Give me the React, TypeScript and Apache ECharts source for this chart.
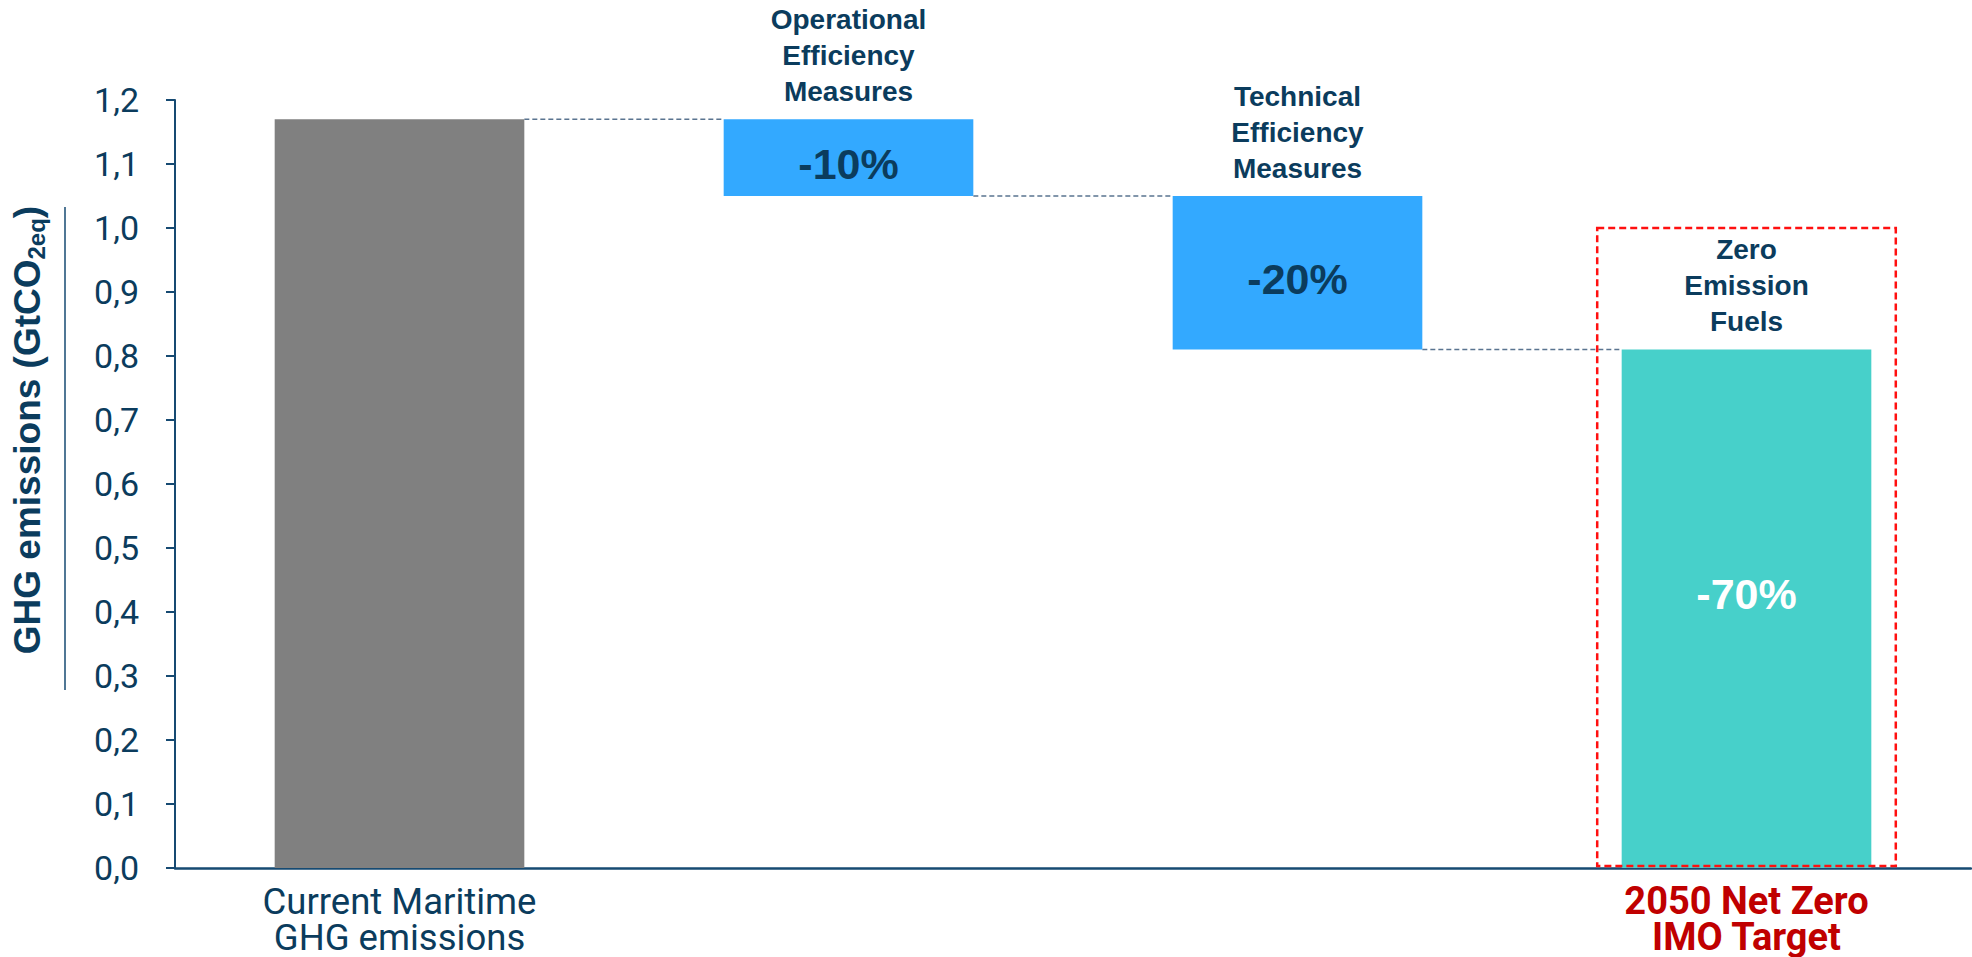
import React, { useEffect, useRef } from "react";
import * as echarts from "echarts";

// ---- Data ----
const categories = [
  "Current Maritime\nGHG emissions",
  "Operational Efficiency Measures",
  "Technical Efficiency Measures",
  "2050 Net Zero\nIMO Target",
];
const axisLabelShown = [true, false, false, true];
const baseValues = [0, 1.05, 0.81, 0];
const barValues = [1.17, 0.12, 0.24, 0.81];
const topLabels = ["", "Operational\nEfficiency\nMeasures", "Technical\nEfficiency\nMeasures", "Zero\nEmission\nFuels"];
const pctLabels = ["", "-10%", "-20%", "-70%"];
const barColors = ["#808080", "#33a9ff", "#33a9ff", "#47d0ca"];
const pctColors = ["#0b3c5d", "#0b3c5d", "#0b3c5d", "#ffffff"];
const pctOffsets = [[0, 0], [0, 6], [0, 6], [0, -15]];
const yTicks = { min: 0, max: 1.2, interval: 0.1 };
const targetBoxTop = 1.0;
const targetIndex = 3;

const NAVY = "#0b3c5d";
const AXIS = "#164a72";
const ARIAL = "Liberation Sans, Arial, sans-serif";

export default function App() {
  const ref = useRef<HTMLDivElement>(null);

  useEffect(() => {
    if (!ref.current) return;
    const chart = echarts.init(ref.current, null, { renderer: "svg" });

    const connectors = barValues.slice(0, -1).map((v, i) => [i, i === 0 ? v : baseValues[i]]);
    const barWidthRatio = 0.556;
    const boxWidthRatio = 0.665;

    chart.setOption({
      animation: false,
      grid: { left: 175, right: 1, top: 100, bottom: 89, containLabel: false },
      xAxis: {
        type: "category",
        data: categories,
        axisTick: { show: false },
        axisLine: { lineStyle: { color: AXIS, width: 2.5 } },
        axisLabel: {
          interval: 0,
          margin: 15,
          color: NAVY,
          fontFamily: "Roboto",
          fontSize: 36.5,
          lineHeight: 36,
          formatter: (v: string, i: number) =>
            !axisLabelShown[i] ? "" : i === targetIndex ? `{red|${v}}` : v,
          rich: {
            red: {
              color: "#c00000",
              fontFamily: "Roboto",
              fontWeight: "bold",
              fontSize: 38,
              lineHeight: 36,
            },
          },
        },
      },
      yAxis: {
        type: "value",
        min: yTicks.min,
        max: yTicks.max,
        interval: yTicks.interval,
        splitLine: { show: false },
        axisLine: { show: true, lineStyle: { color: AXIS, width: 2 } },
        axisTick: { show: true, length: 9, lineStyle: { color: AXIS, width: 2 } },
        axisLabel: {
          margin: 36,
          color: NAVY,
          fontFamily: "Roboto",
          fontSize: 34,
          formatter: (v: number) => v.toFixed(1).replace(".", ","),
        },
      },
      series: [
        {
          type: "bar",
          stack: "w",
          barWidth: barWidthRatio * 100 + "%",
          itemStyle: { color: "transparent" },
          emphasis: { disabled: true },
          data: baseValues,
          silent: true,
        },
        {
          type: "bar",
          stack: "w",
          z: 3,
          emphasis: { disabled: true },
          data: barValues.map((v, i) => ({
            value: v,
            itemStyle: { color: barColors[i] },
            label: {
              show: pctLabels[i] !== "",
              position: "inside",
              offset: pctOffsets[i],
              formatter: pctLabels[i],
              color: pctColors[i],
              fontFamily: ARIAL,
              fontWeight: "bold",
              fontSize: 43,
            },
          })),
        },
        {
          type: "scatter",
          symbolSize: 0,
          silent: true,
          itemStyle: { opacity: 1 },
          data: barValues.map((v, i) => [i, baseValues[i] + v]),
          label: {
            show: true,
            position: "top",
            distance: 10,
            formatter: (p: any) => topLabels[p.dataIndex],
            color: NAVY,
            fontFamily: ARIAL,
            fontWeight: "bold",
            fontSize: 28,
            lineHeight: 36,
            align: "center",
          },
        },
        {
          type: "custom",
          silent: true,
          z: 1,
          data: connectors,
          renderItem: (params: any, api: any) => {
            const i = api.value(0);
            const v = api.value(1);
            const bw = api.size([1, 0])[0] * barWidthRatio;
            const p1 = api.coord([i, v]);
            const p2 = api.coord([i + 1, v]);
            return {
              type: "line",
              shape: { x1: p1[0] + bw / 2, y1: p1[1], x2: p2[0] - bw / 2, y2: p2[1] },
              style: { stroke: "#5a7490", lineWidth: 1.5, lineDash: [5, 3] },
            };
          },
        },
        {
          type: "custom",
          silent: true,
          z: 5,
          data: [[targetIndex, targetBoxTop]],
          renderItem: (params: any, api: any) => {
            const i = api.value(0);
            const v = api.value(1);
            const w = api.size([1, 0])[0] * boxWidthRatio;
            const top = api.coord([i, v]);
            const bot = api.coord([i, 0]);
            return {
              type: "rect",
              shape: { x: top[0] - w / 2, y: top[1], width: w, height: bot[1] - top[1] - 2 },
              style: { fill: "none", stroke: "#ff1010", lineWidth: 2.5, lineDash: [7, 4] },
            };
          },
        },
      ],
      graphic: [
        {
          type: "text",
          x: 27,
          y: 430,
          rotation: Math.PI / 2,
          style: {
            text: "{b|GHG emissions (GtCO}{s|2eq}{b|)}",
            align: "center",
            verticalAlign: "middle",
            rich: {
              b: {
                fontFamily: ARIAL,
                fontWeight: "bold",
                fontSize: 37,
                lineHeight: 42,
                fill: NAVY,
                color: NAVY,
              },
              s: {
                fontFamily: ARIAL,
                fontWeight: "bold",
                fontSize: 24,
                lineHeight: 24,
                verticalAlign: "bottom",
                fill: NAVY,
                color: NAVY,
              },
            },
          },
        },
        {
          type: "line",
          shape: { x1: 65, y1: 207, x2: 65, y2: 690 },
          style: { stroke: AXIS, lineWidth: 1.5 },
        },
      ],
    });

    return () => chart.dispose();
  }, []);

  return (
    <div
      ref={ref}
      style={{ position: "absolute", left: 0, top: 0, width: 1972, height: 957, background: "#fff" }}
    />
  );
}
